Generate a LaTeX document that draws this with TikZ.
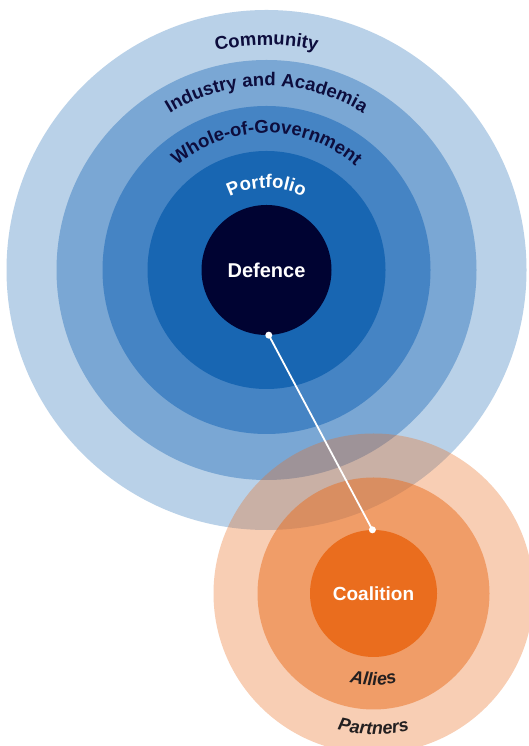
\documentclass[tikz,border=0pt]{standalone}
\usepackage{fontspec}
\setmainfont{Liberation Sans}
\usepackage{tikz}
\usetikzlibrary{positioning}
\usetikzlibrary{decorations.text}
\definecolor{commblue}{RGB}{185,209,232}
\definecolor{indblue}{RGB}{122,167,212}
\definecolor{wogblue}{RGB}{69,132,196}
\definecolor{portblue}{RGB}{24,102,178}
\definecolor{defnavy}{RGB}{0,3,50}
\definecolor{labelnavy}{RGB}{13,13,61}
\definecolor{coalorange}{RGB}{234,109,30}
\definecolor{labelgrey}{RGB}{35,31,32}
\newcommand{\ringfont}{\fontsize{18.5}{20}\selectfont\bfseries}
\newcommand{\outerfont}{\fontsize{18}{20}\selectfont\bfseries\itshape}
\tikzstyle{ring} = [circle, inner sep=0pt, draw=none]
\tikzstyle{core} = [circle, inner sep=0pt, draw=none, text=white,
                font=\fontsize{19}{22}\selectfont\bfseries]
\tikzstyle{link} = [draw=white, line width=1.8pt]
\tikzstyle{dot} = [circle, fill=white, inner sep=0pt, minimum size=7pt]

\begin{document}
\begin{tikzpicture}[x=1pt, y=1pt]
                \useasboundingbox (0,0) rectangle (529,746);
                \fill[white] (0,0) rectangle (529,746);
                \clip (0,0) rectangle (529,746);
                % blue rings round Defence
                \coordinate (hub) at (266.5,476);
                \node[ring, fill=commblue, minimum size=520pt](community) at (hub){};
                \node[ring, fill=indblue, minimum size=420pt](industry) at (hub){};
                \node[ring, fill=wogblue, minimum size=328pt](wog) at (hub){};
                \node[ring, fill=portblue, minimum size=238pt](portfolio) at (hub){};
                \node[core, fill=defnavy, minimum size=130pt, font=\fontsize{20}{22}\selectfont\bfseries](defence) at (hub){Defence};
                \path[decorate, decoration={text along path, text align=center, text color=labelnavy,
                        text={|\ringfont|Community}}]
                        ([shift={(150:225)}]hub) arc[start angle=150, end angle=30, radius=225];
                \path[decorate, decoration={text along path, text align=center, text color=labelnavy,
                        text={|\ringfont|Industry and Academia}}]
                        ([shift={(150:184)}]hub) arc[start angle=150, end angle=30, radius=184];
                \path[decorate, decoration={text along path, text align=center, text color=labelnavy,
                        text={|\ringfont|Whole-of-Government}}]
                        ([shift={(155:137)}]hub) arc[start angle=155, end angle=25, radius=137];
                \path[decorate, decoration={text along path, text align=center, text color=white,
                        text={|\ringfont|Portfolio}}]
                        ([shift={(160:82)}]hub) arc[start angle=160, end angle=20, radius=82];
                % orange rings round Coalition
                \coordinate (coalhub) at (373.5,152.5);
                \node[ring, fill=coalorange, fill opacity=0.33, minimum size=320pt](partners) at (coalhub){};
                \node[ring, fill=coalorange, fill opacity=0.5, minimum size=232pt](allies) at (coalhub){};
                \node[core, fill=coalorange, minimum size=127pt](coalition) at (coalhub){Coalition};
                \path[decorate, decoration={text along path, text align=center, text color=labelgrey,
                        text={|\outerfont|Allies}}]
                        ([shift={(200:92)}]coalhub) arc[start angle=200, end angle=340, radius=92];
                \path[decorate, decoration={text along path, text align=center, text color=labelgrey,
                        text={|\outerfont|Partners}}]
                        ([shift={(210:141)}]coalhub) arc[start angle=210, end angle=330, radius=141];
                % link
                \node[dot](defdot) at (defence.-88){};
                \node[dot](coaldot) at (coalition.91){};
                \path[link](defdot.center) -- (coaldot.center);
            \end{tikzpicture}
\end{document}
